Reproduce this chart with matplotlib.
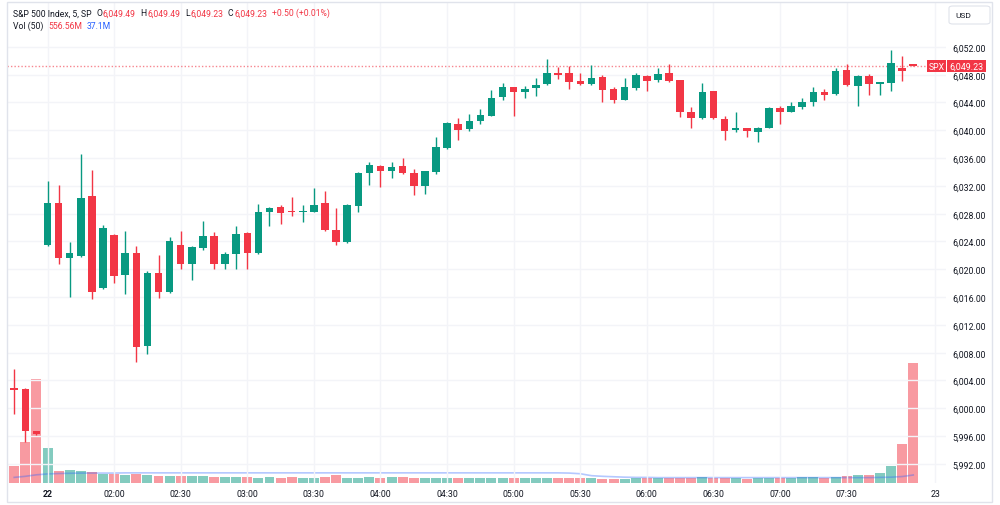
import matplotlib.pyplot as plt
import matplotlib.transforms as mtrans
from matplotlib.patches import Rectangle, FancyBboxPatch

plt.rcParams['font.family'] = ['Roboto', 'DejaVu Sans']

# OHLC of the 5 min bars (index 0 = first bar on the left)
opens = [6002.8, 6002.8, 5996.7, 6023.5, 6029.5, 6021.6, 6021.9, 6030.5, 6017.3, 6025.0,
         6019.2, 6022.3, 6008.9, 6019.5, 6016.7, 6023.5, 6020.7, 6023.0, 6024.8, 6020.8,
         6022.2, 6025.2, 6022.3, 6028.3, 6028.9, 6028.3, 6028.2, 6028.3, 6029.5, 6025.7,
         6023.9, 6029.1, 6033.9, 6034.9, 6034.2, 6034.8, 6033.9, 6032.0, 6034.0, 6037.5,
         6040.9, 6040.2, 6041.4, 6042.1, 6044.8, 6046.2, 6045.5, 6046.1, 6046.6, 6048.3,
         6048.2, 6047.1, 6046.6, 6047.6, 6045.9, 6044.4, 6046.1, 6047.8, 6047.3, 6048.2,
         6047.2, 6042.6, 6041.7, 6045.6, 6041.6, 6040.0, 6040.3, 6039.8, 6040.4, 6043.2,
         6042.7, 6043.4, 6044.0, 6045.5, 6045.2, 6048.7, 6046.4, 6047.8, 6046.6, 6046.8,
         6049.0, 6049.49]
highs = [6005.6, 6002.9, 5996.8, 6032.7, 6032.2, 6023.9, 6036.6, 6034.3, 6026.4, 6025.1,
         6025.5, 6023.3, 6019.7, 6022.0, 6024.6, 6025.5, 6023.3, 6027.0, 6025.3, 6022.5,
         6026.3, 6025.3, 6029.4, 6028.9, 6029.3, 6030.4, 6029.2, 6031.7, 6031.3, 6028.8,
         6029.4, 6034.0, 6035.5, 6035.0, 6035.4, 6036.0, 6034.5, 6034.2, 6039.0, 6041.2,
         6041.8, 6042.4, 6043.1, 6045.8, 6046.8, 6046.3, 6046.4, 6047.5, 6050.3, 6049.1,
         6049.3, 6048.3, 6049.4, 6048.0, 6046.2, 6047.5, 6048.2, 6047.9, 6049.0, 6049.5,
         6047.3, 6043.4, 6046.8, 6045.7, 6042.0, 6042.7, 6040.4, 6040.5, 6043.3, 6043.5,
         6044.0, 6044.7, 6046.2, 6046.0, 6049.0, 6049.6, 6047.9, 6048.1, 6047.0, 6051.6,
         6050.7, 6049.49]
lows = [5999.2, 5995.1, 5996.2, 6023.4, 6020.8, 6016.0, 6021.8, 6015.7, 6017.2, 6018.0,
        6016.4, 6006.7, 6007.8, 6015.8, 6016.6, 6020.0, 6018.5, 6022.8, 6020.0, 6020.0,
        6020.0, 6020.0, 6022.2, 6026.2, 6026.5, 6027.6, 6026.8, 6028.2, 6025.5, 6023.5,
        6023.8, 6028.3, 6032.2, 6031.9, 6033.2, 6033.7, 6030.7, 6030.8, 6033.7, 6037.3,
        6038.6, 6039.9, 6040.9, 6042.0, 6044.3, 6042.1, 6044.7, 6045.0, 6046.5, 6047.4,
        6046.0, 6046.5, 6046.5, 6044.0, 6043.9, 6044.3, 6045.8, 6045.7, 6046.9, 6047.0,
        6041.9, 6040.3, 6041.6, 6041.6, 6038.6, 6039.7, 6039.1, 6038.3, 6040.3, 6040.9,
        6042.6, 6043.1, 6043.5, 6044.3, 6045.1, 6046.4, 6043.5, 6045.1, 6045.1, 6045.7,
        6047.1, 6049.23]
closes = [6002.7, 5996.8, 5996.3, 6029.6, 6021.6, 6022.3, 6030.2, 6016.8, 6026.0, 6019.1,
          6022.4, 6008.8, 6019.4, 6016.7, 6024.0, 6020.8, 6023.2, 6024.8, 6020.7, 6022.2,
          6025.1, 6022.4, 6028.3, 6028.8, 6028.1, 6028.2, 6028.4, 6029.3, 6025.6, 6023.9,
          6029.3, 6033.9, 6035.0, 6034.1, 6034.7, 6033.8, 6032.0, 6034.1, 6037.6, 6041.1,
          6040.1, 6041.4, 6042.2, 6044.7, 6046.3, 6045.5, 6046.0, 6046.5, 6048.3, 6048.0,
          6046.9, 6046.7, 6047.5, 6045.8, 6044.3, 6046.3, 6047.9, 6047.1, 6048.1, 6047.1,
          6042.6, 6041.8, 6045.5, 6041.7, 6039.9, 6040.3, 6039.9, 6040.4, 6043.2, 6042.6,
          6043.5, 6044.0, 6045.5, 6045.1, 6048.6, 6046.5, 6047.8, 6046.7, 6046.9, 6049.7,
          6048.6, 6049.23]

# volume in millions
volumes = [77, 192, 482, 161, 54, 60, 54, 50, 43, 42,
           37, 42, 37, 31, 32, 32, 32, 32, 28, 29,
           29, 29, 25, 28, 25, 29, 25, 25, 29, 35,
           23, 23, 29, 25, 29, 26, 22, 22, 22, 22,
           22, 25, 25, 25, 25, 25, 22, 22, 22, 22,
           22, 22, 22, 19, 19, 19, 22, 22, 22, 22,
           25, 22, 26, 22, 22, 22, 19, 22, 22, 25,
           22, 26, 26, 22, 26, 34, 37, 37, 45, 77,
           180, 556.56]
vol_ma = [26, 31, 38, 42, 44, 45, 46, 46, 46, 46,
          47, 47, 47, 47, 47, 47, 47, 47, 47, 47,
          47, 47, 47, 47, 47, 47, 47, 47, 47, 47,
          47, 47, 47, 47, 47, 47, 47, 47, 47, 47,
          47, 47, 47, 47, 47, 47, 47, 47, 47, 47,
          46, 43, 34, 31, 29, 27, 26, 26, 25, 25,
          25, 25, 25, 25, 25, 25, 25, 25, 25, 25,
          25, 25, 25, 25, 25, 25, 25, 25, 26, 27,
          30, 37.1]

time_pos = [3, 9, 15, 21, 27, 33, 39, 45, 51, 57, 63, 69, 75, 83]
time_labels = ['22', '02:00', '02:30', '03:00', '03:30', '04:00', '04:30', '05:00',
               '05:30', '06:00', '06:30', '07:00', '07:30', '23']
price_ticks = [5992, 5996, 6000, 6004, 6008, 6012, 6016, 6020, 6024, 6028,
               6032, 6036, 6040, 6044, 6048, 6052]

GREEN = '#089981'
RED = '#F23645'
DARK = '#131722'
GRID = '#f3f4f8'

W, H = 1000, 506
fig = plt.figure(figsize=(W / 100, H / 100), dpi=100)
fig.patch.set_facecolor('white')


def fx(px):
    return px / W


def fy(py):
    return 1 - py / H


rect = [fx(7), fy(484), (946 - 7) / W, (484 - 3) / H]
vax = fig.add_axes(rect)
ax = fig.add_axes(rect)
ax.patch.set_visible(False)

n = len(closes)
xs = list(range(n))
ccol = [GREEN if c >= o else RED for o, c in zip(opens, closes)]

# volume pane overlay
vax.bar(xs, volumes, width=0.9, color=ccol, alpha=0.5, linewidth=0, zorder=2)
vax.plot(xs, vol_ma, color='#2962FF', alpha=0.35, lw=1.2, zorder=3)
vax.set_ylim(0, 556.56 * 481 / 120)
vax.set_xlim(-0.65, 83.95)
vax.axis('off')

# grid
for p in price_ticks:
    ax.axhline(p, color=GRID, lw=1, zorder=0)
for t in time_pos:
    ax.axvline(t, color=GRID, lw=1, zorder=0)

# candles
for i in xs:
    ax.vlines(i, lows[i], highs[i], color=ccol[i], lw=1, zorder=3)
    lo = min(opens[i], closes[i])
    h = max(abs(closes[i] - opens[i]), 0.25)
    ax.bar(i, h, bottom=lo, width=0.68, color=ccol[i], linewidth=0, zorder=4)

last = closes[-1]
ax.axhline(last, color=RED, lw=1, ls=(0, (1, 1.5)), alpha=0.6, zorder=2)

ax.set_xlim(-0.65, 83.95)
ax.set_ylim(5989.25, 6058.46)
for s in ax.spines.values():
    s.set_visible(False)

ax.yaxis.tick_right()
ax.set_yticks(price_ticks)
ax.set_yticklabels([f'{p:,.2f}' for p in price_ticks])
ax.tick_params(axis='y', length=0, pad=4.5, labelsize=6.3, labelcolor=DARK)
ax.set_xticks(time_pos)
ax.set_xticklabels(time_labels)
ax.tick_params(axis='x', length=0, pad=4.5, labelsize=6.3, labelcolor=DARK)
ax.get_xticklabels()[0].set_fontweight('bold')

# last price tag
bt = mtrans.blended_transform_factory(fig.transFigure, ax.transData)
th = 12 / 6.95
fig.add_artist(Rectangle((fx(927), last - th / 2), 19 / W, th, transform=bt,
                         facecolor=RED, edgecolor='none', zorder=10))
fig.add_artist(Rectangle((fx(947), last - th / 2), 39 / W, th, transform=bt,
                         facecolor=RED, edgecolor='none', zorder=10))
fig.text(fx(936.5), last, 'SPX', transform=bt, color='white', fontsize=6.2,
         ha='center', va='center', zorder=11)
fig.text(fx(966.5), last, f'{last:,.2f}', transform=bt, color='white', fontsize=6.4,
         ha='center', va='center', zorder=11)

# USD box
fig.add_artist(FancyBboxPatch((fx(949), fy(25)), 41 / W, 18 / H,
                              boxstyle='round,pad=0,rounding_size=0.004',
                              transform=fig.transFigure, facecolor='white',
                              edgecolor='#e0e3eb', lw=0.8))
fig.text(fx(955), fy(16), 'USD', color=DARK, fontsize=6, va='center')

# outer frame
fig.add_artist(Rectangle((fx(7), fy(503)), (992 - 7) / W, (503 - 3) / H,
                         transform=fig.transFigure, facecolor='none',
                         edgecolor='#e0e3eb', lw=1))

# legend lines, pieces chained one after another
fs = 6.2


def chain(first, parts):
    prev = first
    for s, c, gap in parts:
        prev = ax.annotate(s, xy=(1, 0), xycoords=prev, xytext=(gap, 0),
                           textcoords='offset points', color=c, fontsize=fs,
                           va='bottom', ha='left', annotation_clip=False)


t1 = fig.text(fx(13), fy(14), 'S&P 500 Index, 5, SP', color=DARK, fontsize=fs, va='center')
chain(t1, [('O', DARK, 3.3), ('6,049.49', RED, 0.6), ('H', DARK, 3.3), ('6,049.49', RED, 0.6),
           ('L', DARK, 3.3), ('6,049.23', RED, 0.6), ('C', DARK, 3.3), ('6,049.23', RED, 0.6),
           ('+0.50 (+0.01%)', RED, 3.3)])
t2 = fig.text(fx(13), fy(26), 'Vol (50)', color=DARK, fontsize=fs, va='center')
chain(t2, [('556.56M', RED, 3.3), ('37.1M', '#2962FF', 3.3)])

fig.savefig('out.png', dpi=100)
